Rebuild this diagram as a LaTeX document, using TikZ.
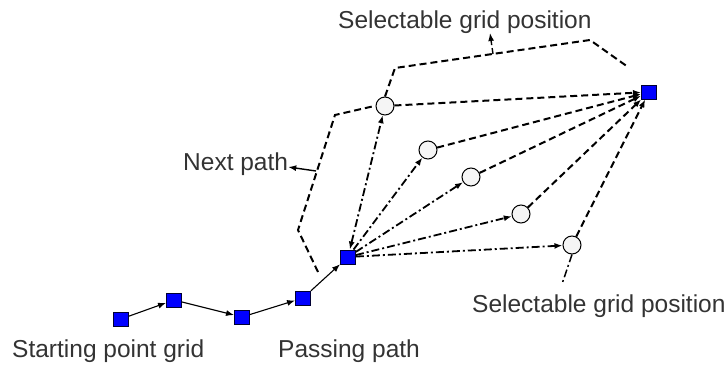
\documentclass[tikz,border=0pt]{standalone}
\usepackage{fontspec}
\setmainfont{Liberation Sans}
\usetikzlibrary{arrows.meta}
\begin{document}
\begin{tikzpicture}[x=1pt,y=-1pt,
  grid/.style={draw=black!80!blue, fill=blue, minimum width=15pt, minimum height=14pt, inner sep=0pt, line width=0.9pt},
  cand/.style={circle, draw=black, fill=black!4, minimum size=18pt, inner sep=0pt, line width=1pt},
  tip/.style={-{Latex[length=8pt,width=6pt]}},
  pass/.style={tip, line width=1.1pt},
  dashln/.style={line width=2pt, dash pattern=on 7pt off 4pt},
  dashdot/.style={line width=1.8pt, dash pattern=on 8pt off 3pt on 2pt off 3pt},
  lbl/.style={font=\fontsize{24.5}{28}\selectfont, text=black!80, inner sep=0pt, anchor=base west}]
\useasboundingbox (0,0) rectangle (724,367);

% passing path grid cells
\node[grid] (s1) at (121,319) {};
\node[grid] (s2) at (174,300) {};
\node[grid] (s3) at (242,317) {};
\node[grid] (s4) at (303,298) {};
\node[grid] (s5) at (348,257) {};
% destination grid cell
\node[grid] (t) at (649,92) {};

% selectable grid positions
\node[cand] (c1) at (385,106) {};
\node[cand] (c2) at (428,150) {};
\node[cand] (c3) at (471,177) {};
\node[cand] (c4) at (521,214) {};
\node[cand] (c5) at (572,245) {};

% labels
\node[lbl] (ltop) at (338,28) {Selectable grid position};
\node[lbl] (lnext) at (183,170) {Next path};
\node[lbl] (lstart) at (12,357) {Starting point grid};
\node[lbl] (lpass) at (278,357) {Passing path};
\node[lbl] (lbot) at (472,312) {Selectable grid position};

% passing path
\draw[pass] (s1) -- (s2);
\draw[pass] (s2) -- (s3);
\draw[pass] (s3) -- (s4);
\draw[pass] (s4) -- (s5);

% candidate moves from the current cell
\draw[dashdot, {Latex[length=8pt,width=6pt]}-{Latex[length=8pt,width=6pt]}] (s5) -- (c1);
\foreach \c in {c2,c3,c4,c5}
  \draw[dashdot, tip] (s5) -- (\c);

% from each candidate on to the destination
\foreach \c in {c1,c2,c3,c4,c5}
  \draw[dashln, tip] (\c) -- (t);

% bracket marking the next path
\coordinate (n1) at (318,272);
\coordinate (n2) at (298,230);
\coordinate (n3) at (335,115);
\coordinate (n4) at (370,107);
\draw[dashln] (n1) -- (n2) -- (n3) -- (n4) -- (c1.west);
\coordinate (nm) at (316,171);
\draw[line width=1.4pt, tip] (nm) -- (lnext.east |- 0,167);

% bracket marking the selectable positions
\coordinate (b2) at (395,68);
\coordinate (b3) at (590,40);
\coordinate (b4) at (628,67);
\draw[dashln] (c1.north) -- (b2) -- (b3) -- (b4);
\coordinate (bm) at (493,54);
\coordinate (bh) at (490,33);
\draw[line width=1.4pt, dash pattern=on 6pt off 3pt, tip] (bm) -- (bh);

% pointer to the lower candidate
\coordinate (ce) at (562,284);
\draw[dashdot, line width=1.5pt] (c5.south) -- (ce);
\end{tikzpicture}
\end{document}
